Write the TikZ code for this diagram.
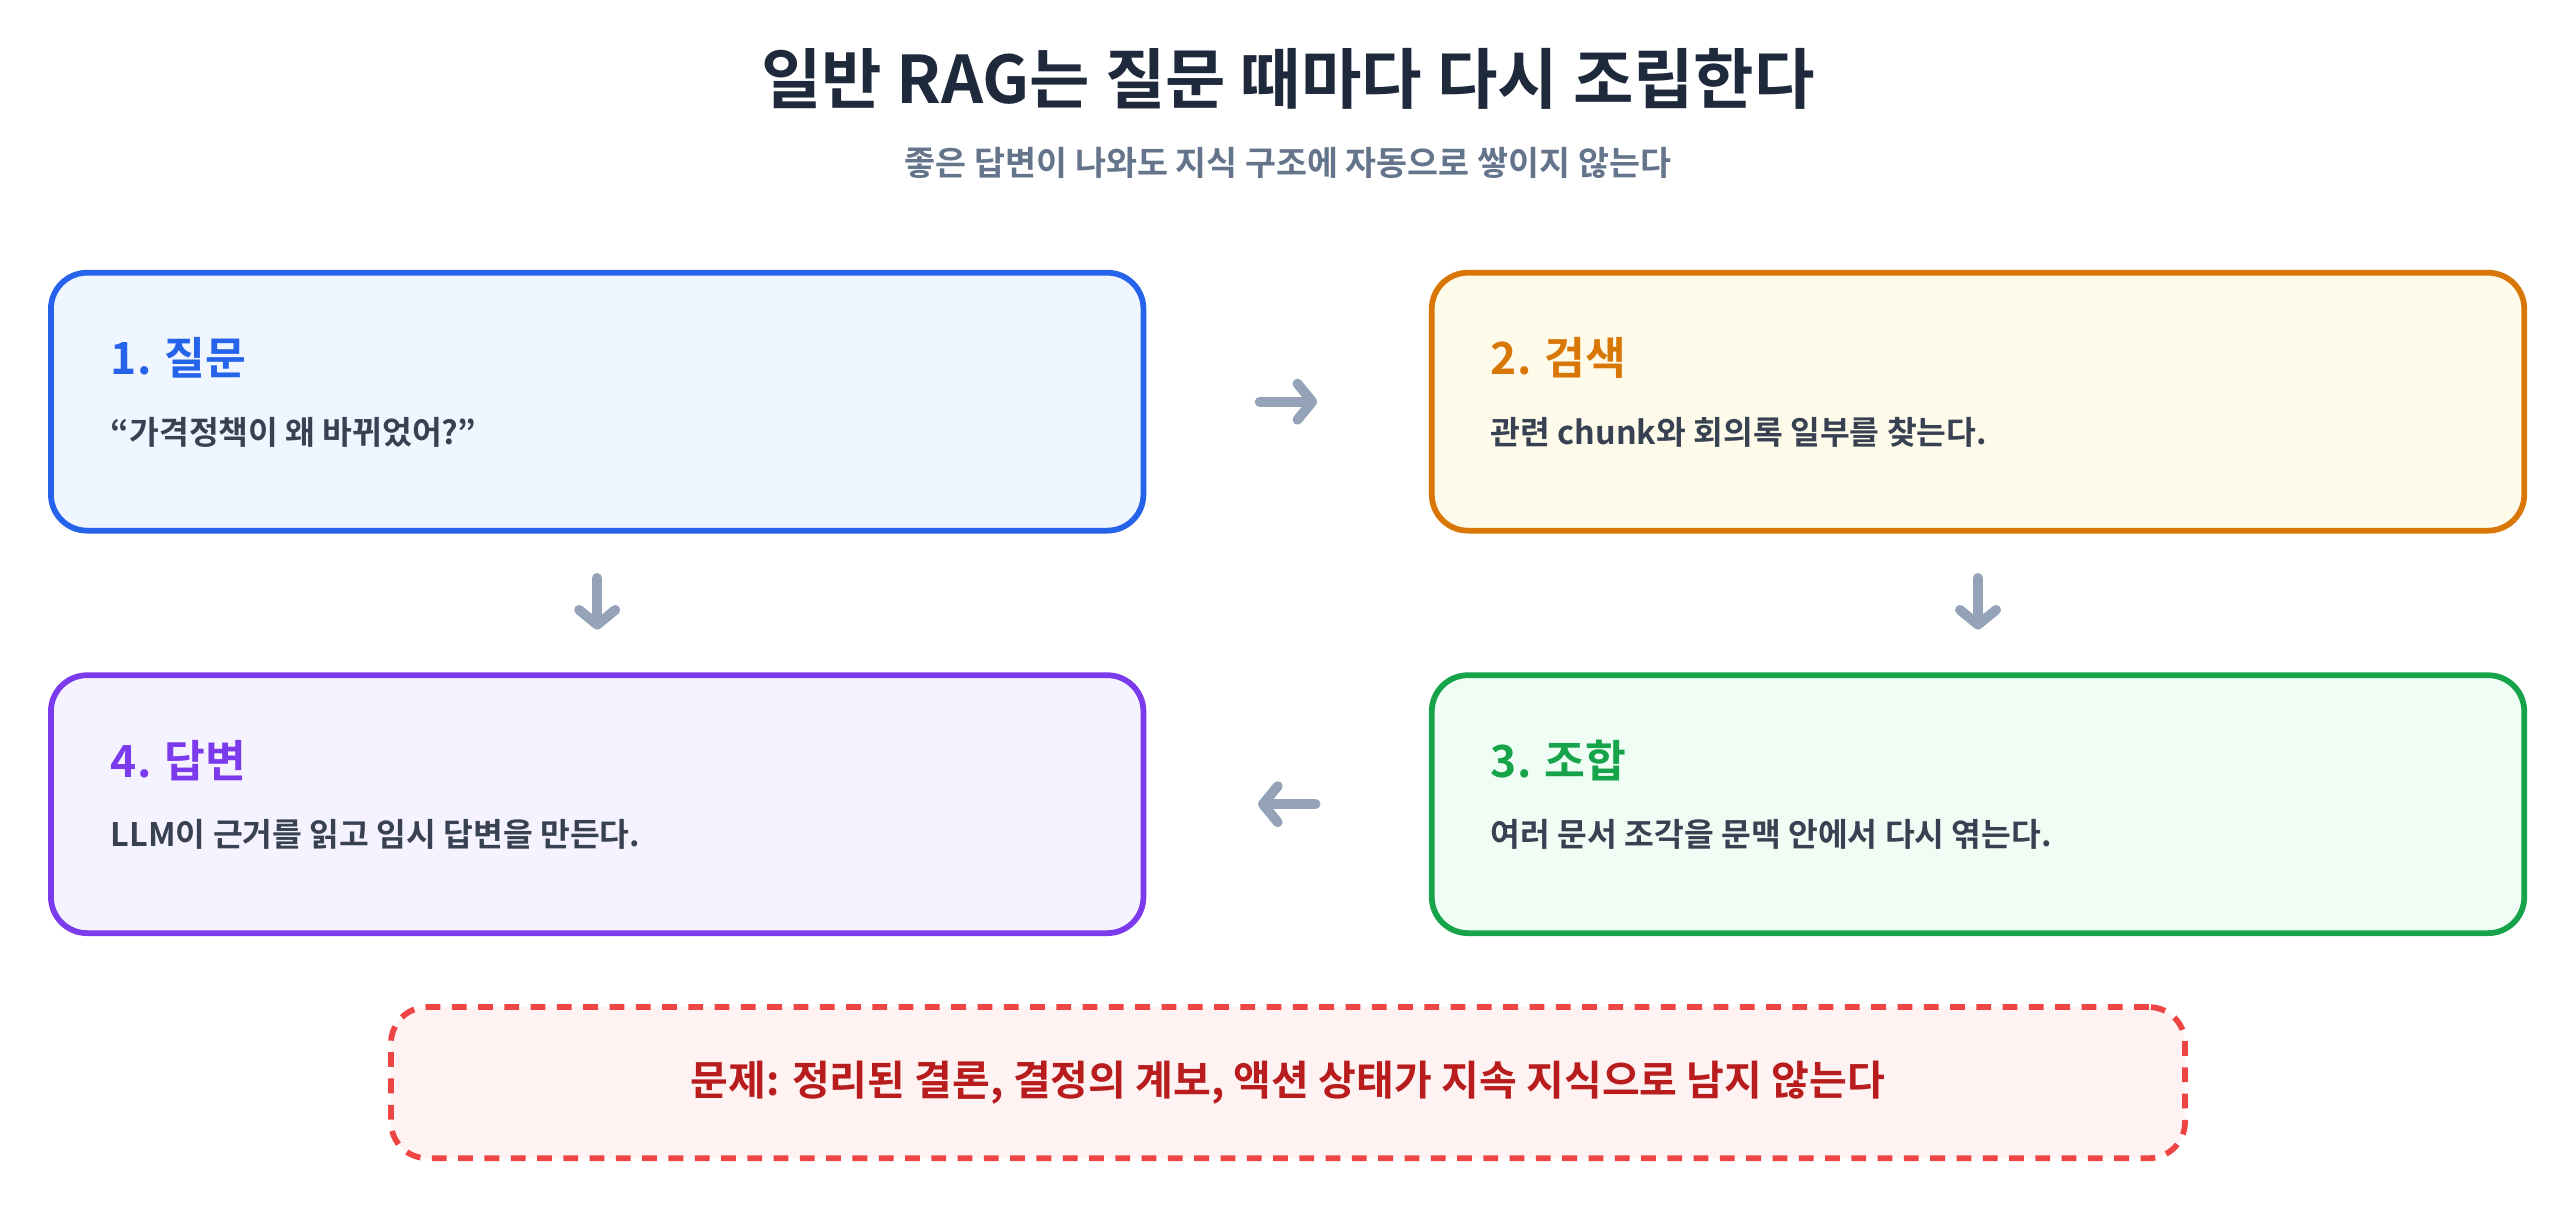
\documentclass[tikz,border=0pt]{standalone}
\usepackage{fontspec}
\setmainfont{Noto Sans CJK KR}[BoldFont={Noto Sans CJK KR Bold}]
\usetikzlibrary{arrows.meta}
\definecolor{tt}{HTML}{1E293B}\definecolor{st}{HTML}{64748B}\definecolor{bt}{HTML}{374151}
\definecolor{ar}{HTML}{94A3B8}
\definecolor{cB}{HTML}{2563EB}\definecolor{fB}{HTML}{EFF6FF}
\definecolor{cO}{HTML}{D97706}\definecolor{fO}{HTML}{FFFBEB}
\definecolor{cG}{HTML}{16A34A}\definecolor{fG}{HTML}{F0FDF4}
\definecolor{cP}{HTML}{7C3AED}\definecolor{fP}{HTML}{F5F3FF}
\definecolor{cR}{HTML}{EF4444}\definecolor{fR}{HTML}{FEF2F2}\definecolor{tR}{HTML}{B91C1C}
\begin{document}
\begin{tikzpicture}[x=1pt,y=-1pt,
 box/.style={draw=#1,line width=3.5pt,rounded corners=22pt,minimum width=665pt,minimum height=157pt,inner sep=0pt},
 hd/.style={anchor=west,font=\fontsize{27}{30}\selectfont\bfseries,text=#1},
 bd/.style={anchor=west,font=\fontsize{19.7}{23}\selectfont\bfseries,text=bt},
 arr/.style={draw=ar,line width=6pt,line cap=round,-{Straight Barb[length=9pt,width=22pt,line width=6pt,round]}}]
\useasboundingbox (0,0) rectangle (1568,736);
\node[font=\fontsize{40}{44}\selectfont\bfseries,text=tt] (t) at (784,48) {일반 RAG는 질문 때마다 다시 조립한다};
\node[font=\fontsize{20.5}{24}\selectfont\bfseries,text=st] (s) at (784,99) {좋은 답변이 나와도 지식 구조에 자동으로 쌓이지 않는다};
\node[box=cB,fill=fB] (b1) at (363.5,244.5) {};
\node[box=cO,fill=fO] (b2) at (1204,244.5) {};
\node[box=cP,fill=fP] (b4) at (363.5,489.5) {};
\node[box=cG,fill=fG] (b3) at (1204,489.5) {};
\node[hd=cB] (h1) at (64,218) {1. 질문};
\node[bd] (d1) at (64,263) {“가격정책이 왜 바뀌었어?”};
\node[hd=cO] (h2) at (904,218) {2. 검색};
\node[bd] (d2) at (904,263) {관련 chunk와 회의록 일부를 찾는다.};
\node[hd=cP] (h4) at (64,463) {4. 답변};
\node[bd] (d4) at (64,508) {LLM이 근거를 읽고 임시 답변을 만든다.};
\node[hd=cG] (h3) at (904,463) {3. 조합};
\node[bd] (d3) at (904,508) {여러 문서 조각을 문맥 안에서 다시 엮는다.};
\node[draw=cR,fill=fR,line width=3.5pt,dash pattern=on 9pt off 7pt,rounded corners=22pt,minimum width=1092pt,minimum height=92pt,text=tR,font=\fontsize{25}{29}\selectfont\bfseries] (p) at (784,659) {문제: 정리된 결론, 결정의 계보, 액션 상태가 지속 지식으로 남지 않는다};
\draw[arr,shorten <=69pt,shorten >=68pt] (b1.east) -- (b2.west);
\draw[arr,shorten <=69pt,shorten >=68pt] (b3.west) -- (b4.east);
\draw[arr,shorten <=27pt,shorten >=26pt] (b1.south) -- (b4.north);
\draw[arr,shorten <=27pt,shorten >=26pt] (b2.south) -- (b3.north);
\end{tikzpicture}
\end{document}
